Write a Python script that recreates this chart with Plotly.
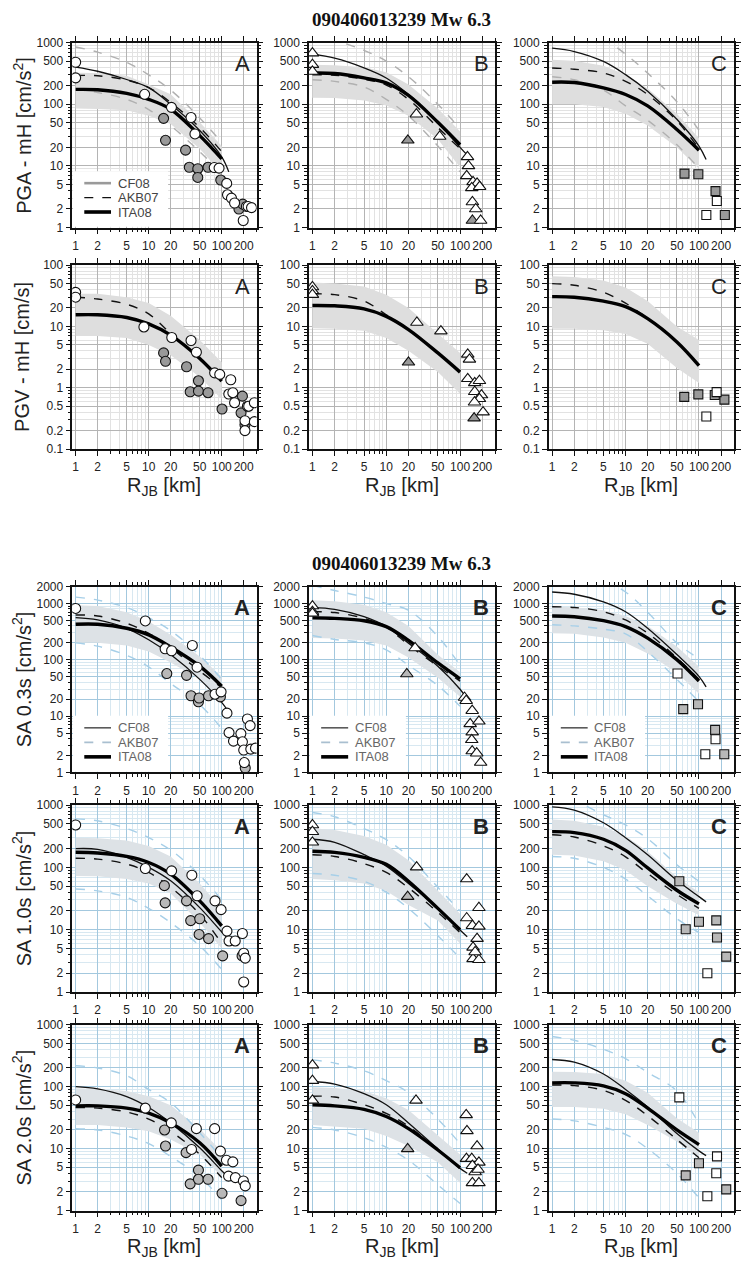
import plotly.graph_objects as go

FIG_W, FIG_H = 741, 1270

# distances (km) at which the model curves are tabulated
MODEL_R = [1, 2, 5, 10, 20, 50, 100]
CF08_R = [1, 2, 5, 10, 20, 50, 100, 125]
PGV_AKB07_R = [1, 2, 5, 10, 20]

X_TICKS = [1, 2, 5, 10, 20, 50, 100, 200]
Y_TICKS_PGV = [0.1, 0.2, 0.5, 1, 2, 5, 10, 20, 50, 100]
Y_TICKS_ACC = [1, 2, 5, 10, 20, 50, 100, 200, 500, 1000]
Y_TICKS_SA03 = [1, 2, 5, 10, 20, 50, 100, 200, 500, 1000, 2000]

# ---------------- PGA ----------------
PGA_CF08 = [[400, 343, 252, 186, 100, 37.5, 14, 8],
            [650, 560, 390, 267, 144, 51, 20, 15],
            [811, 717, 495, 302, 163, 57, 21, 12.7]]
PGA_AKB07 = [[293, 290, 246, 186, 107, 42, 17],
             [300, 295, 255, 205, 120, 42, 19],
             [387, 370, 322, 236, 144, 54, 19]]
PGA_ITA08 = [[174, 172, 150, 120, 83, 31, 13],
             [321, 315, 267, 222, 139, 51, 22],
             [228, 225, 184, 144, 94, 39, 18]]
PGA_BAND_HI = [[323, 320, 290, 210, 145, 51, 21],
               [437, 430, 400, 330, 210, 85, 36],
               [525, 510, 420, 300, 180, 70, 28]]
PGA_BAND_LO = [[85, 84, 80, 65, 48, 19, 7.6],
               [128, 126, 115, 95, 65, 27, 9.5],
               [100, 100, 90, 70, 45, 20, 9]]
PGA_SIG_HI = [[850, 700, 480, 300, 170, 60, 24],
              [1500, 1100, 750, 500, 280, 100, 40],
              [2500, 1800, 1150, 650, 320, 110, 38]]
PGA_SIG_LO = [[175, 155, 120, 82, 45, 17, 7.5],
              [250, 235, 190, 120, 65, 21, 8],
              [280, 250, 170, 94, 55, 22, 9]]

PGA_A_OPEN_R = [1, 1, 8.8, 20.5, 38, 43, 79, 92, 117, 120, 136, 150, 197, 218, 230, 256]
PGA_A_OPEN_V = [480, 268, 145, 89, 61, 33, 9.4, 9.2, 5.2, 3.4, 3.0, 2.5, 1.3, 2.2, 2.2, 2.1]
PGA_A_FILL_R = [16, 17, 32, 36, 47, 47, 65, 97, 172, 194]
PGA_A_FILL_V = [59, 26, 18, 9.5, 9.0, 6.5, 9.5, 5.9, 2.0, 2.4]
PGA_B_OPEN_R = [1, 1, 1, 25.6, 53, 126, 130, 123, 150, 170, 144, 184, 147, 163, 190]
PGA_B_OPEN_V = [674, 440, 340, 69, 30, 14, 10, 6.9, 5.5, 5.2, 4.4, 4.6, 2.6, 2.0, 1.3]
PGA_B_FILL_R = [19.6, 147]
PGA_B_FILL_V = [26, 1.3]
PGA_C_OPEN_R = [175, 126]
PGA_C_OPEN_V = [2.7, 1.6]
PGA_C_FILL_R = [63.5, 98, 168, 225]
PGA_C_FILL_V = [7.5, 7.3, 3.9, 1.6]

# ---------------- PGV ----------------
PGV_AKB07 = [[30, 28, 23, 16, 7.5],
             [34, 33, 26, 15.5, 9],
             [50, 47, 36, 24, 13.4]]
PGV_ITA08 = [[15.5, 15.5, 14, 11, 7.2, 3.0, 1.28],
             [22, 21.7, 19.4, 14.6, 8.9, 3.7, 1.8],
             [30.6, 30, 25.8, 21, 13.4, 5.6, 2.3]]
PGV_BAND_HI = [[34, 34, 30, 24, 15, 6, 2.6],
               [52, 50, 45, 33, 20, 7.5, 3.7],
               [66, 64, 56, 43, 26, 10, 6]]
PGV_BAND_LO = [[7, 7, 6.5, 5, 3.4, 1.5, 0.65],
               [9.3, 9.2, 8.5, 6.5, 4, 1.8, 0.8],
               [9.2, 9.2, 8.7, 7.5, 5.2, 2.1, 1.2]]

PGV_A_OPEN_R = [1, 1, 8.6, 20.7, 38, 45, 80, 94, 133, 125, 142, 150, 225, 208, 208, 234, 280, 280]
PGV_A_OPEN_V = [36, 30, 9.8, 6.6, 5.9, 3.8, 1.75, 1.65, 1.35, 0.79, 0.83, 0.57, 0.5, 0.29, 0.2, 0.5, 0.57, 0.28]
PGV_A_FILL_R = [16, 17, 33, 37, 48, 48, 65, 101, 192, 184, 208]
PGV_A_FILL_V = [3.7, 2.7, 2.2, 0.86, 1.3, 0.88, 0.83, 0.45, 0.73, 0.39, 0.25]
PGV_B_OPEN_R = [1, 1, 1, 26, 55, 127, 134, 127, 158, 183, 158, 195, 183, 157, 205]
PGV_B_OPEN_V = [44, 38, 33, 11.6, 8.4, 3.5, 2.9, 1.4, 1.2, 1.3, 0.86, 0.76, 0.66, 0.58, 0.4]
PGV_B_FILL_R = [20, 155]
PGV_B_FILL_V = [2.6, 0.32]
PGV_C_OPEN_R = [126, 174]
PGV_C_OPEN_V = [0.34, 0.85]
PGV_C_FILL_R = [63, 98, 164, 222]
PGV_C_FILL_V = [0.71, 0.78, 0.76, 0.64]

# ---------------- SA 0.3 s ----------------
SA03_CF08 = [[560, 510, 363, 227, 124, 45, 17.5, 11.7],
             [851, 784, 583, 389, 198, 77, 30, 20],
             [1600, 1460, 1070, 714, 364, 124, 51, 33]]
SA03_AKB07 = [[624, 600, 445, 296, 162, 63, 32],
              [715, 690, 545, 380, 185, 77, 42],
              [874, 850, 714, 510, 297, 108, 45]]
SA03_ITA08 = [[428, 428, 363, 277, 169, 77, 34],
              [560, 545, 495, 389, 221, 88, 46],
              [598, 583, 495, 389, 243, 101, 42]]
SA03_BAND_HI = [[935, 900, 700, 480, 280, 115, 50],
                [1145, 1100, 950, 700, 400, 123, 60],
                [874, 860, 760, 600, 400, 173, 75]]
SA03_BAND_LO = [[200, 200, 180, 140, 90, 45, 20],
                [243, 240, 220, 180, 110, 48, 22],
                [297, 290, 250, 200, 130, 59, 25]]
SA03_SIG_HI = [[1300, 1150, 850, 560, 330, 120, 45],
               [2100, 1700, 1300, 1000, 760, 260, 80],
               [4000, 3500, 2600, 1600, 700, 200, 105]]
SA03_SIG_LO = [[200, 175, 120, 75, 38, 16, 6],
               [270, 230, 200, 150, 80, 35, 15],
               [420, 400, 350, 290, 140, 45, 18]]

SA03_A_OPEN_R = [1, 9, 16.8, 20.6, 39.6, 46, 81, 98, 118, 225, 245, 126, 145, 183, 192, 200, 250, 290, 204]
SA03_A_OPEN_V = [817, 490, 157, 145, 180, 74, 24.5, 27, 11.3, 8.9, 6.8, 5.1, 3.6, 4.9, 3.5, 2.5, 2.6, 2.7, 1.5]
SA03_A_FILL_R = [17.7, 33, 38, 48, 49, 66, 96, 210]
SA03_A_FILL_V = [57, 53, 23, 18, 21, 23, 22, 1.2]
SA03_B_OPEN_R = [1, 1, 1, 24.6, 115, 121, 146, 137, 180, 146, 144, 146, 168, 190]
SA03_B_OPEN_V = [900, 715, 667, 162, 21.4, 18.8, 12.5, 7.3, 8.1, 5.2, 3.8, 2.4, 2.2, 1.5]
SA03_B_FILL_R = [19]
SA03_B_FILL_V = [56]
SA03_C_OPEN_R = [51, 168, 122]
SA03_C_OPEN_V = [57, 3.9, 2.1]
SA03_C_FILL_R = [61, 97, 166, 221]
SA03_C_FILL_V = [13.3, 16.3, 5.7, 2.1]

# ---------------- SA 1.0 s ----------------
SA10_CF08 = [[200, 195, 145, 100, 61, 22.6, 9.2, 7],
             [283, 253, 160, 105, 55, 22, 9.9, 7.7],
             [935, 830, 520, 300, 160, 62, 34, 28]]
SA10_AKB07 = [[140, 136, 113, 83, 48, 17.7, 6],
              [160, 150, 115, 83, 47, 19, 9],
              [334, 308, 222, 148, 80, 37, 22]]
SA10_ITA08 = [[175, 170, 150, 120, 78, 29, 11.5],
              [182, 174, 145, 112, 60, 22, 10],
              [375, 362, 283, 188, 98, 43, 26]]
SA10_BAND_HI = [[300, 295, 270, 220, 150, 55, 22],
                [425, 400, 320, 230, 130, 43, 18],
                [590, 560, 450, 320, 180, 70, 40]]
SA10_BAND_LO = [[73, 72, 65, 55, 38, 13, 5],
                [65, 62, 55, 42, 25, 14, 6],
                [160, 155, 125, 90, 50, 26, 17]]
SA10_SIG_HI = [[600, 560, 420, 300, 190, 75, 30],
               [760, 650, 420, 280, 150, 48, 20],
               [1300, 1150, 700, 480, 290, 110, 60]]
SA10_SIG_LO = [[45, 42, 33, 22, 13, 5.5, 2.3],
               [80, 75, 60, 40, 22, 8, 3.5],
               [150, 140, 100, 65, 35, 15, 9]]

SA10_A_OPEN_R = [1, 9, 20.6, 39, 46, 81, 98, 118, 126, 153, 192, 200, 210, 200]
SA10_A_OPEN_V = [480, 96, 88, 75, 35, 29, 21, 9.5, 6.6, 6.6, 8.7, 4.2, 3.5, 1.45]
SA10_A_FILL_R = [16.8, 16.4, 33, 37.6, 49, 50, 66, 103, 190]
SA10_A_FILL_V = [27, 51, 29, 14, 8.4, 15, 7.2, 3.8, 3.8]
SA10_B_OPEN_R = [1, 1, 1, 25.8, 123, 123, 147, 180, 180, 170, 150, 150, 180, 160]
SA10_B_OPEN_V = [479, 374, 253, 101, 65, 15.4, 11.6, 11.3, 22.5, 7.2, 5.2, 3.4, 3.3, 4.4]
SA10_B_FILL_R = [19.5]
SA10_B_FILL_V = [34]
SA10_C_OPEN_R = [130]
SA10_C_OPEN_V = [2.0]
SA10_C_FILL_R = [54, 66, 100, 172, 176, 235]
SA10_C_FILL_V = [60, 10.2, 13.4, 14.1, 7.5, 3.7]

# ---------------- SA 2.0 s ----------------
SA20_CF08 = [[100, 92, 69, 46, 26, 10.3, 4.4, 3.4],
             [121, 110, 77, 51, 26, 9.9, 4.8, 4.0],
             [274, 249, 160, 90, 47, 17.6, 9.2, 7.7]]
SA20_AKB07 = [[46, 45, 39, 30, 19, 8.1, 3.4],
              [70, 68, 51, 37, 23, 9.5, 4.8],
              [106, 104, 87, 60, 34, 14, 7.1]]
SA20_ITA08 = [[49, 49, 45, 37.5, 26, 12.4, 5.2],
              [51, 49, 43, 33, 21, 9.5, 4.9],
              [115, 115, 103, 77, 45, 20, 11.6]]
SA20_BAND_HI = [[94, 92, 85, 70, 50, 21, 9],
                [98, 95, 85, 65, 42, 16, 8],
                [174, 172, 160, 125, 80, 31, 18]]
SA20_BAND_LO = [[24, 24, 22, 19, 14, 8, 3.5],
                [24, 23, 21, 16, 11, 6, 2.8],
                [47, 47, 44, 36, 24, 13, 7]]
SA20_SIG_HI = [[217, 200, 150, 90, 55, 18, 7],
               [270, 240, 180, 125, 80, 30, 12],
               [643, 560, 400, 283, 170, 85, 25]]
SA20_SIG_LO = [[21, 20, 16, 12, 7.5, 3.5, 1.5],
               [22, 20, 15, 10.5, 6.5, 2.6, 1.3],
               [30, 28, 22, 17, 10, 4, 1.6]]

SA20_A_OPEN_R = [1, 9, 20.4, 45, 80, 38.6, 96, 116, 142, 124, 154, 198, 210]
SA20_A_OPEN_V = [61, 45, 26, 21, 21, 9.7, 9.1, 6.5, 6.1, 3.6, 3.4, 3.0, 2.5]
SA20_A_FILL_R = [17, 16.5, 32.5, 37, 48, 48, 65, 101, 184]
SA20_A_FILL_V = [11, 20, 8.6, 2.7, 4.5, 3.2, 3.2, 1.9, 1.45]
SA20_B_OPEN_R = [1, 1, 1, 25.3, 121, 124, 170, 122, 144, 180, 147, 160, 175, 147, 180]
SA20_B_OPEN_V = [222, 125, 60, 60, 35, 19.3, 11, 6.9, 6.9, 6.0, 5.3, 4.2, 4.6, 2.8, 2.8]
SA20_B_FILL_R = [19.5]
SA20_B_FILL_V = [9.9]
SA20_C_OPEN_R = [54, 176, 172, 130]
SA20_C_OPEN_V = [67, 7.5, 4.0, 1.7]
SA20_C_FILL_R = [66, 100, 235]
SA20_C_FILL_V = [3.7, 5.8, 2.2]

# ---------------- layout geometry (pixels) ----------------
COL_X = [(73, 259), (312, 500), (554, 741)]
ROW_Y = [(36, 223), (261, 447), (586, 774), (807, 996), (1029, 1217)]
X_RANGE = [-0.0458, 2.477]
LEGEND_FRAC_X = 0.52   # legend panel covers this fraction of the width ...
LEGEND_FRAC_Y = 0.305  # ... and of the height, from the lower-left corner

ROWS = [
    dict(label="PGA - mH [cm/s<sup>2</sup>]", yrange=[0, 3], yticks=Y_TICKS_ACC, top=True,
         cf=PGA_CF08, akb=PGA_AKB07, akb_r=MODEL_R, ita=PGA_ITA08,
         hi=PGA_BAND_HI, lo=PGA_BAND_LO, shi=PGA_SIG_HI, slo=PGA_SIG_LO,
         pts=[(PGA_A_OPEN_R, PGA_A_OPEN_V, PGA_A_FILL_R, PGA_A_FILL_V),
              (PGA_B_OPEN_R, PGA_B_OPEN_V, PGA_B_FILL_R, PGA_B_FILL_V),
              (PGA_C_OPEN_R, PGA_C_OPEN_V, PGA_C_FILL_R, PGA_C_FILL_V)]),
    dict(label="PGV - mH [cm/s]", yrange=[-1, 2], yticks=Y_TICKS_PGV, top=True,
         cf=None, akb=PGV_AKB07, akb_r=PGV_AKB07_R, ita=PGV_ITA08,
         hi=PGV_BAND_HI, lo=PGV_BAND_LO, shi=None, slo=None,
         pts=[(PGV_A_OPEN_R, PGV_A_OPEN_V, PGV_A_FILL_R, PGV_A_FILL_V),
              (PGV_B_OPEN_R, PGV_B_OPEN_V, PGV_B_FILL_R, PGV_B_FILL_V),
              (PGV_C_OPEN_R, PGV_C_OPEN_V, PGV_C_FILL_R, PGV_C_FILL_V)]),
    dict(label="SA 0.3s [cm/s<sup>2</sup>]", yrange=[0, 3.30103], yticks=Y_TICKS_SA03, top=False,
         cf=SA03_CF08, akb=SA03_AKB07, akb_r=MODEL_R, ita=SA03_ITA08,
         hi=SA03_BAND_HI, lo=SA03_BAND_LO, shi=SA03_SIG_HI, slo=SA03_SIG_LO,
         pts=[(SA03_A_OPEN_R, SA03_A_OPEN_V, SA03_A_FILL_R, SA03_A_FILL_V),
              (SA03_B_OPEN_R, SA03_B_OPEN_V, SA03_B_FILL_R, SA03_B_FILL_V),
              (SA03_C_OPEN_R, SA03_C_OPEN_V, SA03_C_FILL_R, SA03_C_FILL_V)]),
    dict(label="SA 1.0s [cm/s<sup>2</sup>]", yrange=[0, 3], yticks=Y_TICKS_ACC, top=False,
         cf=SA10_CF08, akb=SA10_AKB07, akb_r=MODEL_R, ita=SA10_ITA08,
         hi=SA10_BAND_HI, lo=SA10_BAND_LO, shi=SA10_SIG_HI, slo=SA10_SIG_LO,
         pts=[(SA10_A_OPEN_R, SA10_A_OPEN_V, SA10_A_FILL_R, SA10_A_FILL_V),
              (SA10_B_OPEN_R, SA10_B_OPEN_V, SA10_B_FILL_R, SA10_B_FILL_V),
              (SA10_C_OPEN_R, SA10_C_OPEN_V, SA10_C_FILL_R, SA10_C_FILL_V)]),
    dict(label="SA 2.0s [cm/s<sup>2</sup>]", yrange=[0, 3], yticks=Y_TICKS_ACC, top=False,
         cf=SA20_CF08, akb=SA20_AKB07, akb_r=MODEL_R, ita=SA20_ITA08,
         hi=SA20_BAND_HI, lo=SA20_BAND_LO, shi=SA20_SIG_HI, slo=SA20_SIG_LO,
         pts=[(SA20_A_OPEN_R, SA20_A_OPEN_V, SA20_A_FILL_R, SA20_A_FILL_V),
              (SA20_B_OPEN_R, SA20_B_OPEN_V, SA20_B_FILL_R, SA20_B_FILL_V),
              (SA20_C_OPEN_R, SA20_C_OPEN_V, SA20_C_FILL_R, SA20_C_FILL_V)]),
]

SYMBOLS = ["circle", "triangle-up", "square"]
SYM_SIZE = [10, 11, 9]
LETTERS = ["A", "B", "C"]
SANS = "Liberation Sans, Arial, sans-serif"
SERIF = "Liberation Serif, Times New Roman, serif"

fig = go.Figure()
layout = dict(
    width=FIG_W, height=FIG_H, margin=dict(l=0, r=0, t=0, b=0),
    paper_bgcolor="white", plot_bgcolor="white", showlegend=False,
    annotations=[], shapes=[],
)


def minor_vals(lo_exp, hi_exp):
    vals = []
    for e in range(lo_exp, hi_exp + 1):
        for m in range(1, 10):
            vals.append(m * 10 ** e)
    return vals


def px_domain_x(x0, x1):
    return [x0 / FIG_W, min(x1 / FIG_W, 1.0)]


def px_domain_y(y0, y1):
    return [1 - y1 / FIG_H, 1 - y0 / FIG_H]


for ri, row in enumerate(ROWS):
    top = row["top"]
    grid_major = "#b4b4b4" if top else "#a3c8de"
    grid_minor = "#e2e2e2" if top else "#d8e8f1"
    band_col = "#dedede" if top else "#dde2e6"
    sig_col = "#b0b0b0" if top else "#a6cfe8"
    fill_col = "#999999" if top else "#b8b8b8"
    for ci in range(3):
        k = ri * 3 + ci + 1
        xa = "x" if k == 1 else f"x{k}"
        ya = "y" if k == 1 else f"y{k}"
        xkey = "xaxis" if k == 1 else f"xaxis{k}"
        ykey = "yaxis" if k == 1 else f"yaxis{k}"
        yr = row["yrange"]
        ytv = row["yticks"]
        layout[xkey] = dict(
            type="log", range=X_RANGE, domain=px_domain_x(*COL_X[ci]), anchor=ya,
            tickmode="array", tickvals=X_TICKS, ticktext=[str(v) for v in X_TICKS],
            tickangle=0, ticklabelstandoff=1,
            ticks="outside", ticklen=5, tickwidth=1, tickcolor="#111",
            showline=True, linecolor="#111", linewidth=1.5, mirror="ticks",
            showgrid=True, gridcolor=grid_major, gridwidth=1,
            minor=dict(tickmode="array", tickvals=minor_vals(0, 2), ticks="outside",
                       ticklen=3, tickcolor="#111", showgrid=True, gridcolor=grid_minor,
                       gridwidth=1),
            tickfont=dict(family=SANS, size=12, color="#222"), zeroline=False,
        )
        layout[ykey] = dict(
            type="log", range=yr, domain=px_domain_y(*ROW_Y[ri]), anchor=xa,
            tickmode="array", tickvals=ytv, ticktext=[("%g" % v) for v in ytv],
            tickangle=0,
            ticks="outside", ticklen=5, tickwidth=1, tickcolor="#111",
            showline=True, linecolor="#111", linewidth=1.5, mirror="ticks",
            showgrid=True, gridcolor=grid_major, gridwidth=1,
            minor=dict(tickmode="array", tickvals=minor_vals(-1, 3), ticks="outside",
                       ticklen=3, tickcolor="#111", showgrid=True, gridcolor=grid_minor,
                       gridwidth=1),
            tickfont=dict(family=SANS, size=12, color="#222"), zeroline=False,
        )

        has_legend = (ri == 0 and ci == 0) or ri == 2
        if has_legend:
            # opaque white panel under the legend keys (hides the grid there)
            bx0 = 10 ** (X_RANGE[0] + 0.004 * (X_RANGE[1] - X_RANGE[0]))
            bx1 = 10 ** (X_RANGE[0] + LEGEND_FRAC_X * (X_RANGE[1] - X_RANGE[0]))
            by0 = 10 ** (yr[0] + 0.004 * (yr[1] - yr[0]))
            by1 = 10 ** (yr[0] + LEGEND_FRAC_Y * (yr[1] - yr[0]))
            fig.add_trace(go.Scatter(
                x=[bx0, bx1, bx1, bx0], y=[by0, by0, by1, by1], xaxis=xa, yaxis=ya,
                mode="lines", fill="toself", fillcolor="white", line=dict(width=0),
                hoverinfo="skip"))

        # ITA08 +/- sigma band
        hi = row["hi"][ci]
        lo = row["lo"][ci]
        fig.add_trace(go.Scatter(
            x=MODEL_R + MODEL_R[::-1], y=hi + lo[::-1], xaxis=xa, yaxis=ya,
            mode="lines", fill="toself", fillcolor=band_col, line=dict(width=0),
            hoverinfo="skip"))
        # dashed sigma bounds
        if row["shi"] is not None:
            for sv in (row["shi"][ci], row["slo"][ci]):
                fig.add_trace(go.Scatter(
                    x=MODEL_R, y=sv, xaxis=xa, yaxis=ya, mode="lines",
                    line=dict(color=sig_col, width=1.4, dash="dash", shape="spline"),
                    hoverinfo="skip"))
        # model curves
        if row["cf"] is not None:
            fig.add_trace(go.Scatter(
                x=CF08_R, y=row["cf"][ci], xaxis=xa, yaxis=ya, mode="lines", name="CF08",
                line=dict(color="#111", width=1.3, shape="spline")))
        fig.add_trace(go.Scatter(
            x=row["akb_r"], y=row["akb"][ci], xaxis=xa, yaxis=ya, mode="lines", name="AKB07",
            line=dict(color="#111", width=1.4, dash="dash", shape="spline")))
        fig.add_trace(go.Scatter(
            x=MODEL_R, y=row["ita"][ci], xaxis=xa, yaxis=ya, mode="lines", name="ITA08",
            line=dict(color="#000", width=3.4, shape="spline")))
        # observations
        o_r, o_v, f_r, f_v = row["pts"][ci]
        for rr, vv, col in ((f_r, f_v, fill_col), (o_r, o_v, "white")):
            if rr:
                fig.add_trace(go.Scatter(
                    x=rr, y=vv, xaxis=xa, yaxis=ya, mode="markers",
                    marker=dict(symbol=SYMBOLS[ci], size=SYM_SIZE[ci], color=col,
                                line=dict(color="#111", width=1.1))))

        # panel letter
        letter = LETTERS[ci] if top else f"<b>{LETTERS[ci]}</b>"
        layout["annotations"].append(dict(
            text=letter, xref=f"{xa} domain", yref=f"{ya} domain", x=0.975, y=0.965,
            xanchor="right", yanchor="top", showarrow=False,
            font=dict(family=SANS, size=22, color="#222")))

        # legend keys
        if has_legend:
            xd, yd = f"{xa} domain", f"{ya} domain"
            if top:
                keys = [("CF08", "#9a9a9a", 2.6, "solid"), ("AKB07", "#111", 1.4, "dash"),
                        ("ITA08", "#000", 3.6, "solid")]
                tcol = "#444"
            else:
                keys = [("CF08", "#333", 1.3, "solid"), ("AKB07", "#a9bfd0", 1.6, "dash"),
                        ("ITA08", "#000", 3.6, "solid")]
                tcol = "#666"
            for j, (nm, lc, lw, ds) in enumerate(keys):
                yy = 0.24 - j * 0.078
                layout["shapes"].append(dict(
                    type="line", xref=xd, yref=yd, x0=0.065, x1=0.21, y0=yy, y1=yy,
                    line=dict(color=lc, width=lw, dash=ds)))
                layout["annotations"].append(dict(
                    text=nm, xref=xd, yref=yd, x=0.235, y=yy, xanchor="left", yanchor="middle",
                    showarrow=False, font=dict(family=SANS, size=13, color=tcol)))

    # row label on the left
    yc = (ROW_Y[ri][0] + ROW_Y[ri][1]) / 2
    layout["annotations"].append(dict(
        text=row["label"], xref="paper", yref="paper", x=22 / FIG_W, y=1 - yc / FIG_H,
        textangle=-90, showarrow=False, xanchor="center", yanchor="middle",
        font=dict(family=SANS, size=20, color="#222")))

# x-axis titles below rows 2 and 5 (top edge of the text box just under the tick labels)
for ytop in (470, 1240):
    for ci in range(3):
        xc = (COL_X[ci][0] + COL_X[ci][1]) / 2
        layout["annotations"].append(dict(
            text="R<sub>JB</sub> [km]", xref="paper", yref="paper", x=xc / FIG_W,
            y=1 - ytop / FIG_H, showarrow=False, xanchor="center", yanchor="top",
            font=dict(family=SANS, size=20, color="#222")))

# event titles
for ytitle in (13, 563):
    layout["annotations"].append(dict(
        text="<b>090406013239 Mw 6.3</b>", xref="paper", yref="paper", x=405 / FIG_W,
        y=1 - ytitle / FIG_H, showarrow=False, xanchor="center", yanchor="middle",
        font=dict(family=SERIF, size=19, color="#111")))

fig.update_layout(**layout)
fig.write_html("out.html")
